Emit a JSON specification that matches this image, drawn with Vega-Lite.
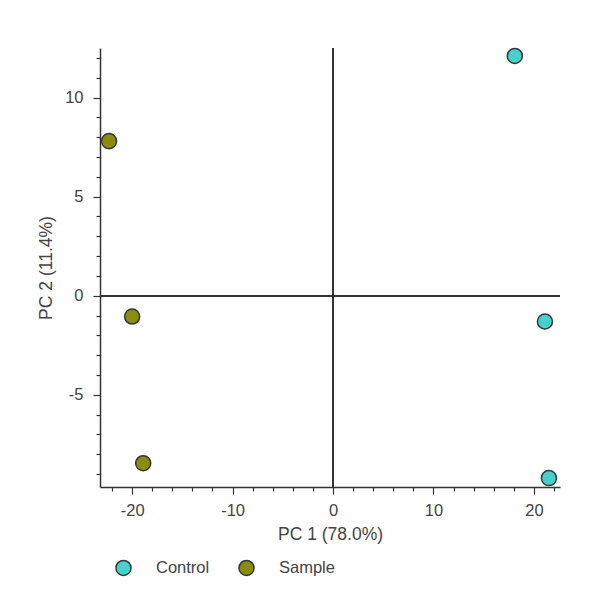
{
  "$schema": "https://vega.github.io/schema/vega-lite/v6.json",
  "autosize": "none",
  "width": 460,
  "height": 439,
  "padding": {"left": 100, "top": 48, "right": 37, "bottom": 118},
  "background": "white",
  "config": {
    "view": {"stroke": null},
    "font": "Liberation Sans",
    "axis": {
      "domainColor": "#333333",
      "domainWidth": 1.5,
      "tickColor": "#333333",
      "tickWidth": 1.2,
      "labelColor": "#444444",
      "labelFontSize": 16.5,
      "titleColor": "#444444",
      "titleFontSize": 17.5,
      "titleFontWeight": "normal",
      "grid": false,
      "labelOverlap": false,
      "labelFlush": false
    }
  },
  "data": {
    "values": [
      {"group": "Control", "pc1": 18.1, "pc2": 12.1},
      {"group": "Control", "pc1": 21.1, "pc2": -1.3},
      {"group": "Control", "pc1": 21.5, "pc2": -9.2},
      {"group": "Sample", "pc1": -22.3, "pc2": 7.8},
      {"group": "Sample", "pc1": -20.0, "pc2": -1.05},
      {"group": "Sample", "pc1": -18.9, "pc2": -8.45}
    ]
  },
  "resolve": {"axis": {"x": "independent", "y": "independent"}},
  "layer": [
    {
      "mark": {"type": "rule", "color": "#333333", "strokeWidth": 1.5},
      "encoding": {
        "x": {
          "datum": 0, "type": "quantitative",
          "scale": {"domain": [-23.2, 22.6], "nice": false, "zero": false},
          "axis": {
            "orient": "bottom",
            "title": null,
            "labels": false,
            "domain": false,
            "tickSize": 4,
            "values": [-22, -18, -16, -14, -12, -8, -6, -4, -2, 2, 4, 6, 8, 12, 14, 16, 18, 22]
          }
        }
      }
    },
    {
      "mark": {"type": "rule", "color": "#333333", "strokeWidth": 1.5},
      "encoding": {
        "y": {
          "datum": 0, "type": "quantitative",
          "scale": {"domain": [-9.65, 12.5], "nice": false, "zero": false},
          "axis": {
            "orient": "left",
            "title": null,
            "labels": false,
            "domain": false,
            "tickSize": 4,
            "values": [-9, -8, -7, -6, -4, -3, -2, -1, 1, 2, 3, 4, 6, 7, 8, 9, 11, 12]
          }
        }
      }
    },
    {
      "mark": {"type": "point", "shape": "circle", "filled": true, "size": 227, "opacity": 1, "stroke": "#2f3a3a", "strokeWidth": 1.5},
      "encoding": {
        "x": {
          "field": "pc1", "type": "quantitative",
          "axis": {
            "orient": "bottom",
            "title": "PC 1 (78.0%)",
            "values": [-20, -10, 0, 10, 20],
            "labelExpr": "replace(datum.label, '\u2212', '-')",
            "tickSize": 7,
            "labelPadding": 8,
            "titlePadding": 7
          }
        },
        "y": {
          "field": "pc2", "type": "quantitative",
          "axis": {
            "orient": "left",
            "title": "PC 2 (11.4%)",
            "values": [-5, 0, 5, 10],
            "labelExpr": "replace(datum.label, '\u2212', '-')",
            "tickSize": 7,
            "labelPadding": 10,
            "titlePadding": 9
          }
        },
        "color": {
          "field": "group", "type": "nominal",
          "scale": {"domain": ["Control", "Sample"], "range": ["#48d1cc", "#8c8c0c"]},
          "legend": {
            "title": null,
            "orient": "none",
            "direction": "horizontal",
            "legendX": 15,
            "legendY": 511,
            "symbolType": "circle",
            "symbolSize": 227,
            "symbolStrokeColor": "#2f3a3a",
            "symbolStrokeWidth": 1.5,
            "symbolOpacity": 1,
            "labelFont": "Liberation Sans",
            "labelFontSize": 16.5,
            "labelColor": "#444444",
            "labelOffset": 24,
            "columnPadding": 25
          }
        }
      }
    }
  ]
}
